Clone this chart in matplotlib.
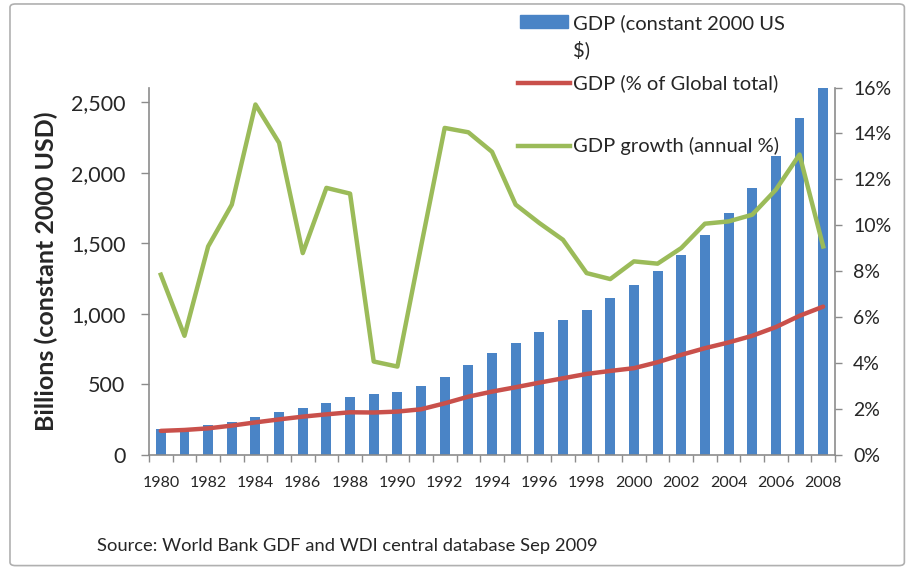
import matplotlib
matplotlib.use('Agg')
import matplotlib.pyplot as plt
from matplotlib.patches import FancyBboxPatch, Rectangle
from matplotlib.lines import Line2D
from matplotlib.ticker import FuncFormatter, FixedLocator

plt.rcParams['font.family'] = ['Lato', 'DejaVu Sans']

# data
years = list(range(1980, 2009))
gdp_const = [182, 193, 212, 231, 270, 305, 330, 369, 410, 429, 447, 488, 554, 637, 720,
             795, 873, 960, 1026, 1109, 1203, 1302, 1415, 1557, 1715, 1895, 2116, 2390, 2602]
gdp_share = [1.05, 1.09, 1.16, 1.28, 1.42, 1.55, 1.67, 1.77, 1.86, 1.85, 1.89, 1.99, 2.25, 2.54, 2.76,
             2.95, 3.15, 3.34, 3.53, 3.66, 3.78, 4.04, 4.36, 4.65, 4.90, 5.19, 5.57, 6.06, 6.46]
gdp_growth = [7.85, 5.19, 9.08, 10.9, 15.26, 13.59, 8.79, 11.63, 11.38, 4.07, 3.85, 9.08, 14.24, 14.05, 13.2,
              10.9, 10.1, 9.37, 7.92, 7.66, 8.43, 8.33, 9.01, 10.07, 10.17, 10.46, 11.55, 13.08, 9.08]
left_ticks = [0, 500, 1000, 1500, 2000, 2500]
right_ticks = [0, 2, 4, 6, 8, 10, 12, 14, 16]
series_names = ['GDP (constant 2000 US\n$)', 'GDP (% of Global total)', 'GDP growth (annual %)']

BLUE = '#4A84C6'
RED = '#C9504B'
GREEN = '#9BBB59'
AXIS = '#8C8C8C'
TXT = '#262626'

W, H = 908, 569
fig = plt.figure(figsize=(W / 100, H / 100), dpi=100)
fig.patches.append(FancyBboxPatch((0.011, 0.006), 0.985, 0.987, boxstyle='round,pad=0,rounding_size=0.006',
                                  transform=fig.transFigure, fill=False, edgecolor='#B0B0B0', lw=1.2))

ax = fig.add_axes([149 / W, 1 - 455 / H, 686 / W, 367.5 / H])
x = list(range(len(years)))
ax.bar(x, gdp_const, width=0.42, color=BLUE, zorder=2)
ax.set_xlim(-0.5, len(years) - 0.5)
ax.set_ylim(0, 2604)
ax.yaxis.set_major_locator(FixedLocator(left_ticks))
ax.yaxis.set_major_formatter(FuncFormatter(lambda v, p: f'{int(v):,}'))

# year labels every two years at bar centres, tick marks at category borders
ax.set_xticks(x[::2])
ax.set_xticklabels([str(y) for y in years[::2]])
ax.set_xticks([i - 0.5 for i in range(len(years) + 1)], minor=True)
ax.tick_params(axis='x', which='major', length=0, pad=15, labelsize=11.5, labelcolor=TXT)
ax.tick_params(axis='x', which='minor', length=5, direction='out', color=AXIS, width=1)
ax.tick_params(axis='y', length=6, direction='out', color=AXIS, width=1, labelsize=15.5,
               labelcolor=TXT, pad=11)

for s in ['top', 'right']:
    ax.spines[s].set_visible(False)
for s in ['left', 'bottom']:
    ax.spines[s].set_color(AXIS)
    ax.spines[s].set_linewidth(1.2)

ax.set_ylabel('Billions (constant 2000 USD)', fontsize=18, fontweight='bold', color=TXT)
ax.yaxis.set_label_coords((58 - 149) / 686, 0.5)

ax2 = ax.twinx()
ax2.plot(x, gdp_share, color=RED, lw=3.2, solid_capstyle='round', zorder=3)
ax2.plot(x, gdp_growth, color=GREEN, lw=3.2, zorder=3)
ax2.set_ylim(0, 16)
ax2.yaxis.set_major_locator(FixedLocator(right_ticks))
ax2.yaxis.set_major_formatter(FuncFormatter(lambda v, p: f'{int(v)}%'))
ax2.tick_params(axis='y', length=5, direction='out', color=AXIS, width=1, labelsize=14,
                labelcolor=TXT, pad=8)
for s in ['top', 'left', 'bottom']:
    ax2.spines[s].set_visible(False)
ax2.spines['right'].set_color(AXIS)
ax2.spines['right'].set_linewidth(1.2)

# legend, laid out by hand like the Excel original
tx = 573 / W
fig.patches.append(Rectangle((520 / W, 1 - 28 / H), 48 / W, 13 / H, transform=fig.transFigure,
                             color=BLUE))
first, second = series_names[0].split('\n')
fig.text(tx, 1 - 23 / H, first, fontsize=14.5, color=TXT, va='center')
fig.text(tx, 1 - 50 / H, second, fontsize=14.5, color=TXT, va='center')
for name, col, yp in [(series_names[1], RED, 83), (series_names[2], GREEN, 146)]:
    fig.lines.append(Line2D([518 / W, 570 / W], [1 - yp / H] * 2, transform=fig.transFigure,
                            color=col, lw=3.2))
    fig.text(tx, 1 - yp / H, name, fontsize=14.5, color=TXT, va='center')

fig.text(97 / W, 1 - 546 / H, 'Source: World Bank GDF and WDI central database Sep 2009',
         fontsize=13.2, color=TXT, va='center')

fig.savefig('out.png', dpi=100)
